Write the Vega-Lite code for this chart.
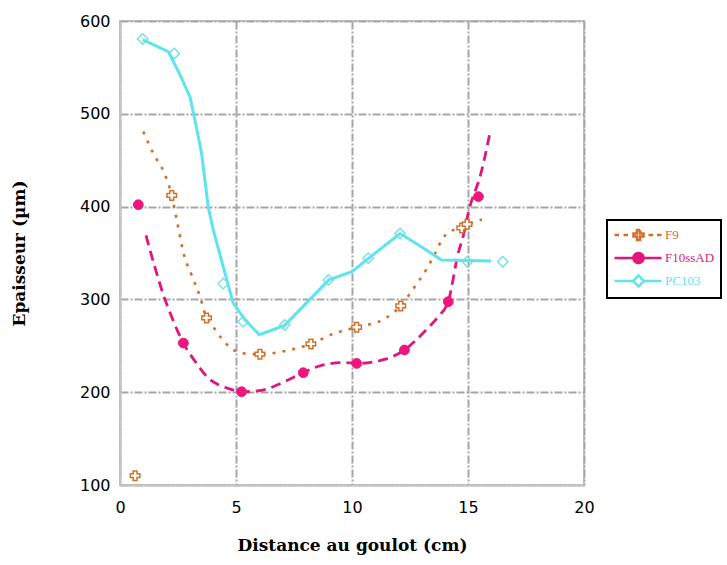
{
  "$schema": "https://vega.github.io/schema/vega-lite/v6.json",
  "width": 464,
  "height": 464,
  "autosize": {"type": "none"},
  "padding": {"left": 120, "top": 21, "right": 143, "bottom": 80},
  "background": "white",
  "datasets": {
    "lines": [
      {"series": "F9", "x": 1.0, "y": 481}, {"series": "F9", "x": 1.44, "y": 457}, {"series": "F9", "x": 1.91, "y": 436},
      {"series": "F9", "x": 2.23, "y": 412}, {"series": "F9", "x": 2.49, "y": 380}, {"series": "F9", "x": 2.77, "y": 347},
      {"series": "F9", "x": 3.09, "y": 326}, {"series": "F9", "x": 3.45, "y": 303}, {"series": "F9", "x": 3.73, "y": 280},
      {"series": "F9", "x": 4.0, "y": 271}, {"series": "F9", "x": 4.38, "y": 258}, {"series": "F9", "x": 4.81, "y": 247},
      {"series": "F9", "x": 5.24, "y": 242}, {"series": "F9", "x": 6.03, "y": 241}, {"series": "F9", "x": 7.4, "y": 246},
      {"series": "F9", "x": 8.23, "y": 252}, {"series": "F9", "x": 9.2, "y": 263}, {"series": "F9", "x": 10.2, "y": 270},
      {"series": "F9", "x": 11.4, "y": 279}, {"series": "F9", "x": 12.1, "y": 293}, {"series": "F9", "x": 12.6, "y": 310},
      {"series": "F9", "x": 13.2, "y": 332}, {"series": "F9", "x": 13.65, "y": 353}, {"series": "F9", "x": 13.87, "y": 364},
      {"series": "F9", "x": 14.2, "y": 373}, {"series": "F9", "x": 14.73, "y": 377}, {"series": "F9", "x": 15.0, "y": 381},
      {"series": "F9", "x": 15.6, "y": 386},
      {"series": "F10ssAD", "x": 1.12, "y": 369}, {"series": "F10ssAD", "x": 1.5, "y": 335}, {"series": "F10ssAD", "x": 1.87, "y": 305},
      {"series": "F10ssAD", "x": 2.23, "y": 281}, {"series": "F10ssAD", "x": 2.73, "y": 253}, {"series": "F10ssAD", "x": 3.3, "y": 231},
      {"series": "F10ssAD", "x": 3.81, "y": 215}, {"series": "F10ssAD", "x": 4.24, "y": 208}, {"series": "F10ssAD", "x": 4.67, "y": 204},
      {"series": "F10ssAD", "x": 5.24, "y": 200.5}, {"series": "F10ssAD", "x": 6.1, "y": 202}, {"series": "F10ssAD", "x": 6.97, "y": 210},
      {"series": "F10ssAD", "x": 7.9, "y": 221}, {"series": "F10ssAD", "x": 8.69, "y": 229}, {"series": "F10ssAD", "x": 9.7, "y": 232},
      {"series": "F10ssAD", "x": 10.2, "y": 231}, {"series": "F10ssAD", "x": 11.35, "y": 235}, {"series": "F10ssAD", "x": 12.26, "y": 245.5},
      {"series": "F10ssAD", "x": 13.15, "y": 266}, {"series": "F10ssAD", "x": 13.7, "y": 281}, {"series": "F10ssAD", "x": 14.15, "y": 298},
      {"series": "F10ssAD", "x": 14.58, "y": 350}, {"series": "F10ssAD", "x": 14.8, "y": 369}, {"series": "F10ssAD", "x": 15.04, "y": 396},
      {"series": "F10ssAD", "x": 15.56, "y": 436}, {"series": "F10ssAD", "x": 15.95, "y": 480},
      {"series": "PC103", "x": 0.98, "y": 580}, {"series": "PC103", "x": 2.08, "y": 567}, {"series": "PC103", "x": 2.59, "y": 542},
      {"series": "PC103", "x": 3.02, "y": 518}, {"series": "PC103", "x": 3.23, "y": 493}, {"series": "PC103", "x": 3.52, "y": 457},
      {"series": "PC103", "x": 3.8, "y": 400}, {"series": "PC103", "x": 4.02, "y": 375}, {"series": "PC103", "x": 4.45, "y": 335},
      {"series": "PC103", "x": 4.88, "y": 296}, {"series": "PC103", "x": 5.39, "y": 278}, {"series": "PC103", "x": 6.0, "y": 262},
      {"series": "PC103", "x": 7.1, "y": 272}, {"series": "PC103", "x": 9.0, "y": 321}, {"series": "PC103", "x": 10.0, "y": 330},
      {"series": "PC103", "x": 10.7, "y": 344}, {"series": "PC103", "x": 12.07, "y": 371}, {"series": "PC103", "x": 12.9, "y": 358},
      {"series": "PC103", "x": 13.86, "y": 342.5}, {"series": "PC103", "x": 16.0, "y": 341.4}
    ],
    "marks": [
      {"sample": "F9", "x": 0.65, "y": 110}, {"sample": "F9", "x": 2.23, "y": 412}, {"sample": "F9", "x": 3.73, "y": 280},
      {"sample": "F9", "x": 6.03, "y": 241}, {"sample": "F9", "x": 8.23, "y": 252}, {"sample": "F9", "x": 10.2, "y": 270},
      {"sample": "F9", "x": 12.1, "y": 293}, {"sample": "F9", "x": 14.73, "y": 377}, {"sample": "F9", "x": 14.96, "y": 381},
      {"sample": "F10ssAD", "x": 0.79, "y": 402}, {"sample": "F10ssAD", "x": 2.73, "y": 253}, {"sample": "F10ssAD", "x": 5.24, "y": 200.5},
      {"sample": "F10ssAD", "x": 7.9, "y": 221}, {"sample": "F10ssAD", "x": 10.2, "y": 231}, {"sample": "F10ssAD", "x": 12.26, "y": 245.5},
      {"sample": "F10ssAD", "x": 14.15, "y": 297.5}, {"sample": "F10ssAD", "x": 15.45, "y": 410.7},
      {"sample": "PC103", "x": 0.98, "y": 580.6}, {"sample": "PC103", "x": 2.34, "y": 565}, {"sample": "PC103", "x": 4.45, "y": 317},
      {"sample": "PC103", "x": 5.31, "y": 276}, {"sample": "PC103", "x": 7.1, "y": 272.4}, {"sample": "PC103", "x": 8.98, "y": 321},
      {"sample": "PC103", "x": 10.7, "y": 344.3}, {"sample": "PC103", "x": 12.07, "y": 371}, {"sample": "PC103", "x": 14.97, "y": 340.6},
      {"sample": "PC103", "x": 16.5, "y": 340.6}
    ]
  },
  "config": {
    "view": {"stroke": "#c4c4c4", "strokeWidth": 2},
    "axis": {
      "labelFont": "DejaVu Sans", "labelFontSize": 16, "labelColor": "black",
      "ticks": false, "domainColor": "#c4c4c4", "domainWidth": 2,
      "gridColor": "#a6a6a6", "gridWidth": 2, "gridDash": [8, 2, 2, 2],
      "titleFont": "DejaVu Serif", "titleFontWeight": "bold", "titleFontSize": 17, "titleColor": "black"
    },
    "legend": {"strokeColor": "black", "strokeWidth": 2, "fillColor": "white"}
  },
  "encoding": {
    "x": {"field": "x", "type": "quantitative", "scale": {"domain": [0, 20], "nice": false},
      "axis": {"values": [0, 5, 10, 15, 20], "title": "Distance au goulot (cm)", "labelPadding": 14, "titlePadding": 22, "labelFlush": false}},
    "y": {"field": "y", "type": "quantitative", "scale": {"domain": [100, 600], "nice": false, "zero": false},
      "axis": {"values": [100, 200, 300, 400, 500, 600], "title": "Epaisseur (µm)", "labelPadding": 10, "titlePadding": 51, "labelFlush": false}}
  },
  "layer": [
    {
      "data": {"name": "lines"},
      "transform": [{"filter": "datum.series === 'F9'"}],
      "mark": {"type": "line", "interpolate": "monotone", "strokeWidth": 2.6, "strokeDash": [3, 7]},
      "encoding": {
        "color": {"field": "series", "type": "nominal",
          "scale": {"domain": ["F9", "F10ssAD", "PC103"], "range": ["#d2702a", "#e0167c", "#5ee4ee"]},
          "legend": {
            "title": null, "orient": "none", "legendX": 487, "legendY": 199,
            "padding": 6,
            "symbolSize": 225, "symbolStrokeWidth": 2.5, "labelFont": "Liberation Serif", "labelFontSize": 13,
            "labelOffset": 34, "rowPadding": 1,
            "encode": {
              "symbols": {"update": {
                "shape": {"signal": "datum.value === 'F9' ? 'M-1,0H-0.4M0.2,0H0.8M3.53,0H4.13M4.67,0H5.27M2,-0.67H2.4V-0.2H2.87V0.2H2.4V0.67H2V0.2H1.53V-0.2H2Z' : datum.value === 'F10ssAD' ? 'M-1,0H5.27M1.53,0A0.67,0.67 0 1,0 2.87,0A0.67,0.67 0 1,0 1.53,0Z' : 'M-1,0H1.47M2.93,0H5.27M2.2,-0.73L2.93,0L2.2,0.73L1.47,0Z'"},
                "fill": {"signal": "datum.value === 'F10ssAD' ? '#f0147c' : '#ffffff'"},
                "stroke": {"scale": "color", "field": "value"},
                "strokeDash": {"value": [1, 0]}
              }},
              "labels": {"update": {"fill": {"scale": "color", "field": "value"}}}
            }
          }
        }
      }
    },
    {
      "data": {"name": "lines"},
      "transform": [{"filter": "datum.series === 'F10ssAD'"}],
      "mark": {"type": "line", "interpolate": "monotone", "strokeWidth": 2.8, "strokeDash": [10, 6]},
      "encoding": {"color": {"field": "series", "type": "nominal"}}
    },
    {
      "data": {"name": "lines"},
      "transform": [{"filter": "datum.series === 'PC103'"}],
      "mark": {"type": "line", "interpolate": "linear", "strokeWidth": 3},
      "encoding": {"color": {"field": "series", "type": "nominal"}}
    },
    {
      "data": {"name": "marks"},
      "transform": [{"filter": "datum.sample === 'F9'"}],
      "mark": {"type": "point", "shape": "cross", "size": 90, "strokeWidth": 1.5, "opacity": 1, "filled": false, "stroke": "#d2702a", "fill": "#ffffff"}
    },
    {
      "data": {"name": "marks"},
      "transform": [{"filter": "datum.sample === 'F10ssAD'"}],
      "mark": {"type": "point", "shape": "circle", "size": 95, "strokeWidth": 1, "opacity": 1, "filled": true, "stroke": "#f0147c", "fill": "#f0147c"}
    },
    {
      "data": {"name": "marks"},
      "transform": [{"filter": "datum.sample === 'PC103'"}],
      "mark": {"type": "point", "shape": "diamond", "size": 110, "strokeWidth": 1.3, "opacity": 1, "filled": false, "stroke": "#70dce6", "fill": "transparent"}
    }
  ]
}
